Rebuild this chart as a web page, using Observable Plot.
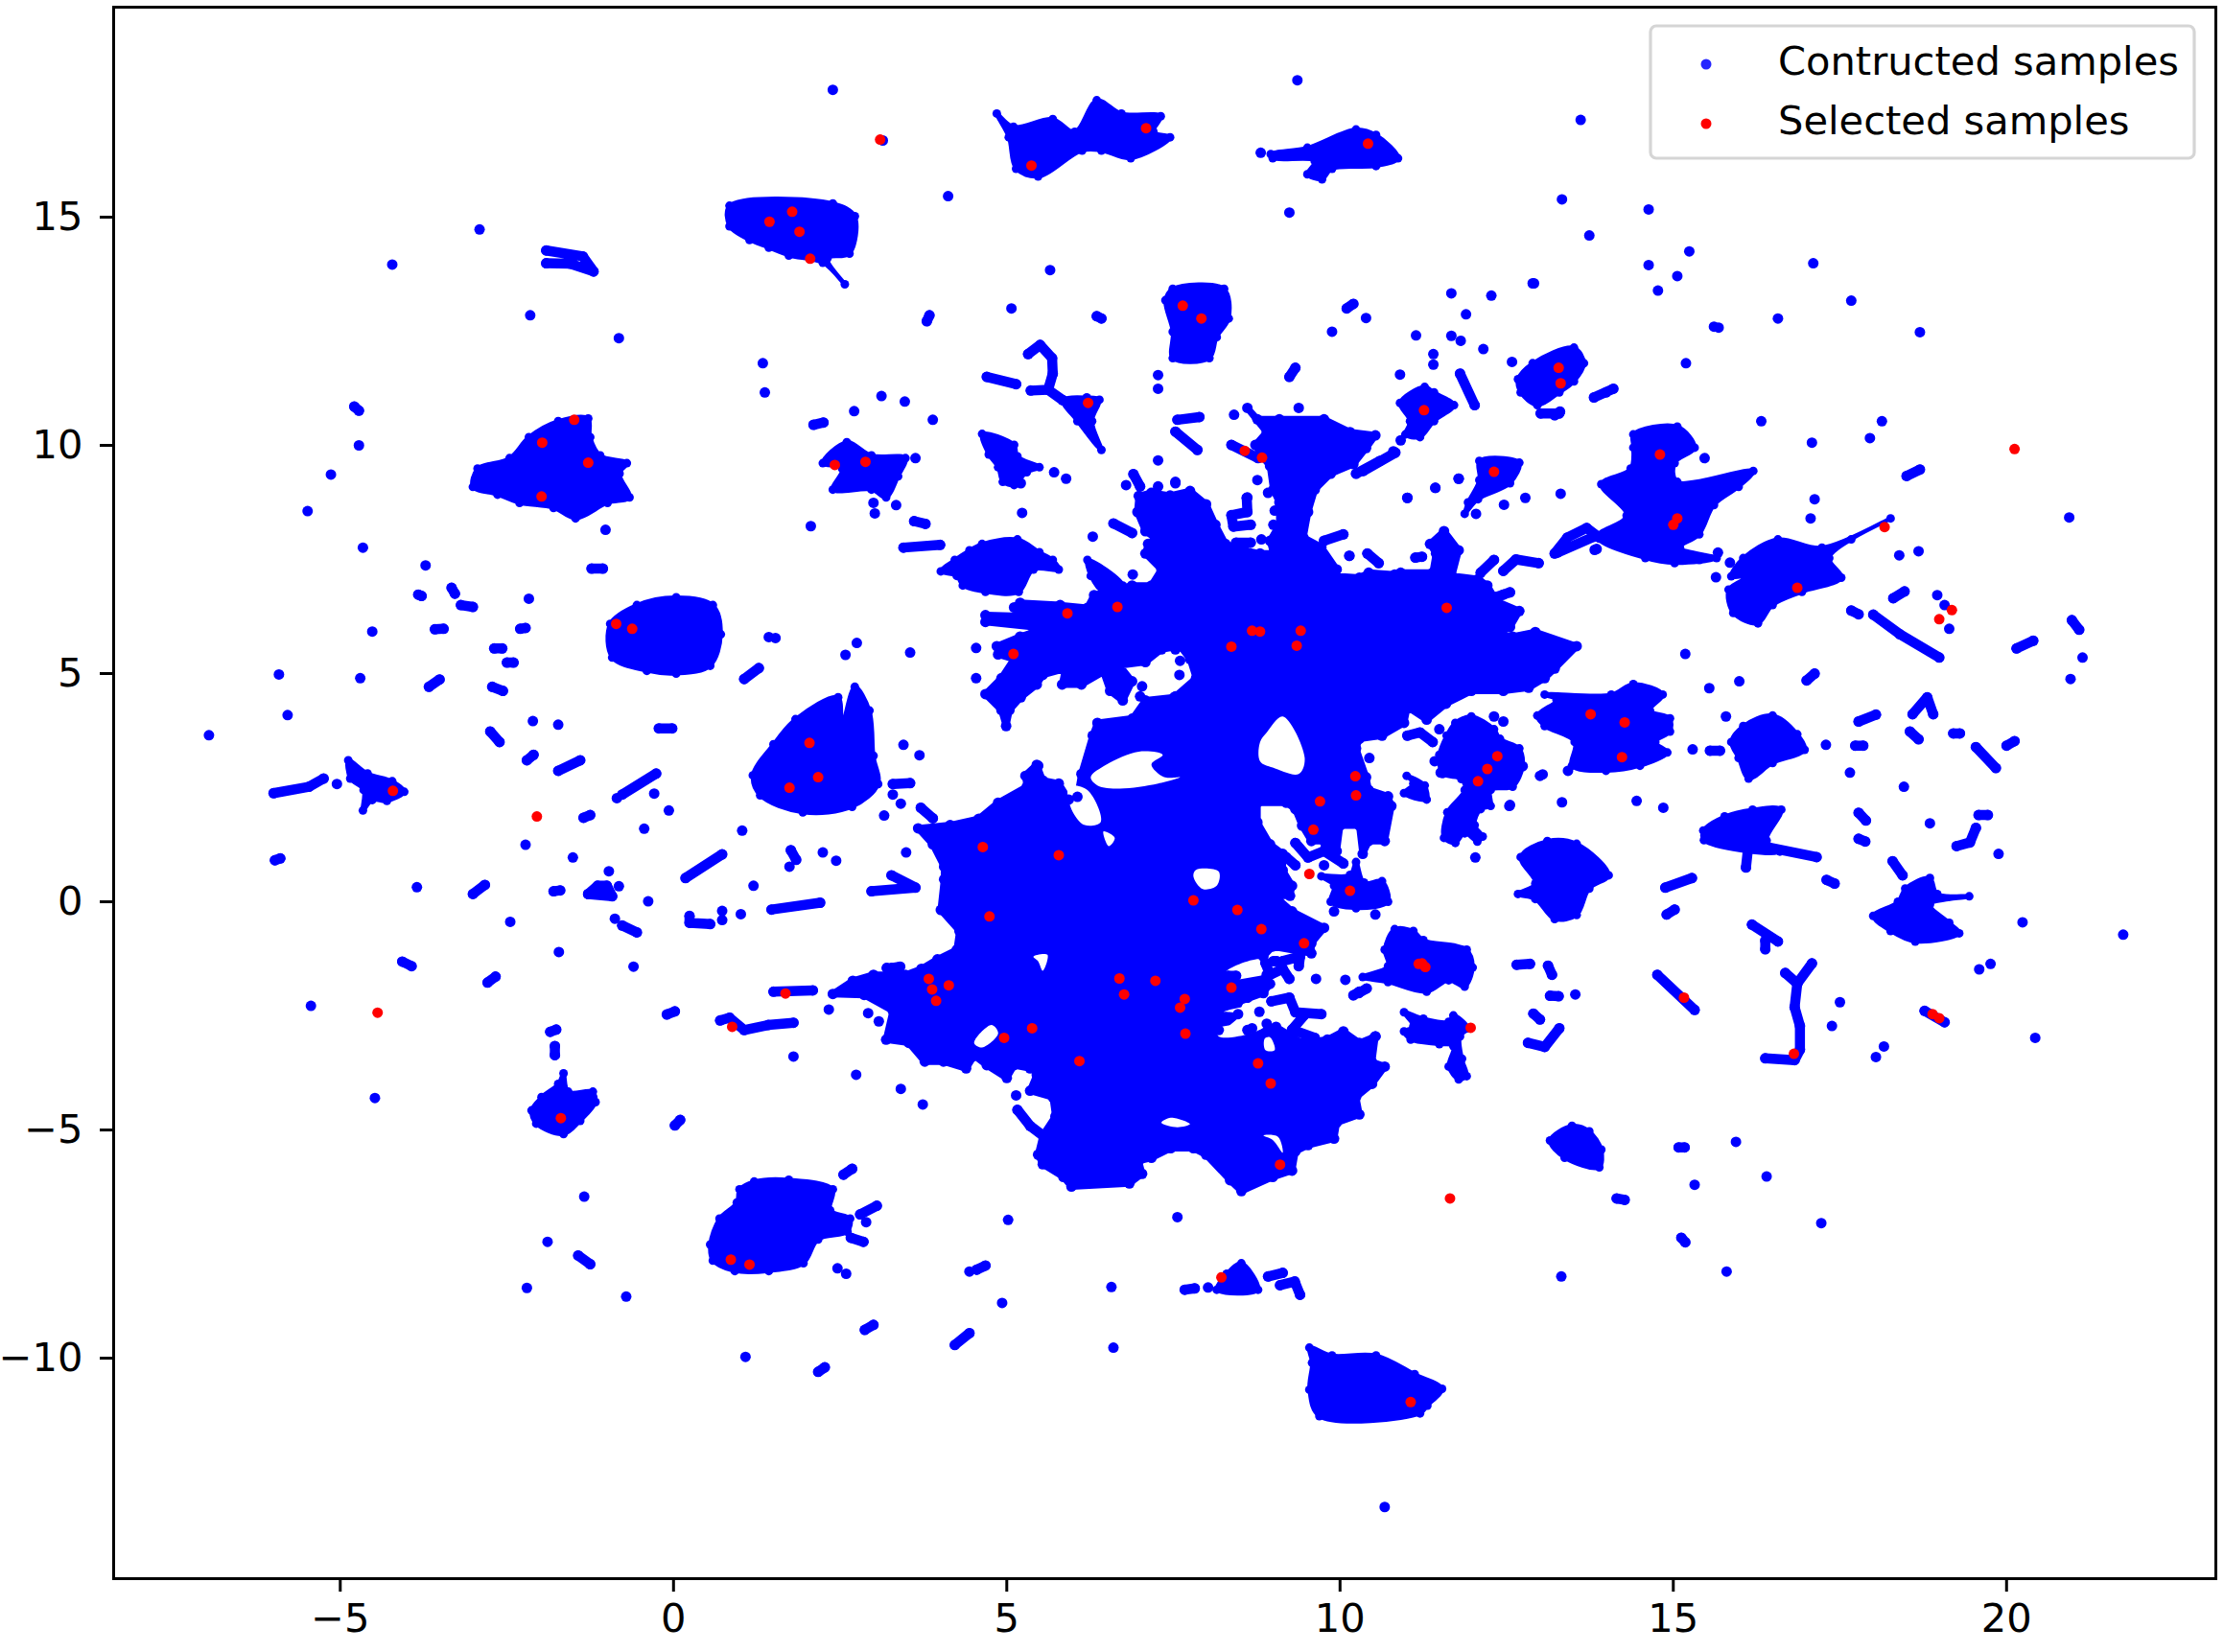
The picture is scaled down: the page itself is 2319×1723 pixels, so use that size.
<!DOCTYPE html>
<html><head><meta charset="utf-8">
<script src="https://cdn.jsdelivr.net/npm/d3@7"></script>
<script src="https://cdn.jsdelivr.net/npm/@observablehq/plot@0.6"></script>
<style>html,body{margin:0;padding:0;background:#fff}svg{display:block}</style>
</head><body><div id="chart"></div>
<script>
const xTicks=[-5,0,5,10,15,20];
const yTicks=[-10,-5,0,5,10,15];
const legendLabels=["Contructed samples","Selected samples"];

// central star, the band below it and the large lower mass, as one outline
const centralMass=[[4.68,6.28],[5.2,6.26],[5.11,6.45],[5.2,6.55],[5.8,6.5],[6.21,6.44],[6.31,6.72],[6.88,6.93],[7.17,6.93],[7.32,7.28],[7.08,7.63],[7.12,7.84],[7.22,7.98],[7.08,8.12],[6.96,8.54],[6.98,8.89],[7.17,8.96],[7.45,8.9],[7.75,9.0],[7.99,8.71],[8.13,8.26],[8.28,7.84],[8.56,7.7],[8.8,7.63],[9.0,7.63],[8.95,7.91],[9.09,8.26],[9.09,8.75],[9.0,9.03],[8.95,9.55],[8.83,9.76],[8.73,10.01],[8.9,10.29],[8.61,10.82],[8.76,10.57],[9.09,10.57],[9.76,10.57],[10.15,10.29],[10.53,10.22],[10.39,9.94],[10.2,9.59],[9.86,9.38],[9.62,9.03],[9.52,8.54],[9.45,7.98],[9.72,7.77],[9.95,7.28],[9.91,7.14],[10.29,7.1],[10.43,7.21],[10.82,7.17],[10.91,7.21],[11.39,7.21],[11.44,7.63],[11.35,7.84],[11.56,8.12],[11.78,7.7],[11.68,7.14],[12.07,7.07],[12.21,6.93],[12.35,6.58],[12.69,6.37],[12.55,6.02],[12.35,5.88],[12.59,5.81],[12.93,5.91],[13.55,5.6],[13.22,5.11],[13.07,4.9],[12.83,4.69],[12.45,4.62],[11.97,4.62],[11.59,4.34],[11.3,3.99],[11.01,4.27],[10.96,3.92],[10.63,3.64],[10.29,3.57],[10.24,3.36],[10.39,2.73],[10.43,2.45],[10.72,2.31],[10.77,2.1],[10.67,1.33],[10.43,1.33],[10.34,1.05],[10.29,1.67],[10.0,1.67],[9.95,1.11],[9.76,1.11],[9.76,1.33],[9.57,1.33],[9.43,1.67],[9.33,2.03],[9.19,2.17],[8.76,2.17],[8.76,1.74],[8.95,1.26],[9.14,1.05],[9.14,0.69],[9.28,0.35],[9.25,0.13],[9.02,0.13],[9.28,-0.21],[9.76,-0.57],[9.57,-0.91],[9.57,-1.13],[8.99,-0.98],[8.85,-1.2],[8.9,-1.6],[8.95,-1.8],[8.85,-2.0],[8.47,-2.2],[8.47,-2.46],[8.18,-2.81],[8.61,-2.81],[9.04,-2.74],[9.43,-3.09],[9.81,-3.02],[10.05,-2.84],[10.29,-3.09],[10.53,-2.95],[10.48,-3.51],[10.67,-3.61],[10.48,-3.99],[10.24,-4.28],[10.29,-4.66],[9.95,-4.84],[9.91,-5.19],[9.52,-5.33],[9.33,-5.47],[9.28,-5.89],[8.99,-6.03],[8.52,-6.34],[8.35,-6.1],[7.99,-5.54],[7.8,-5.4],[7.46,-5.4],[7.17,-5.61],[6.98,-5.68],[7.03,-5.96],[6.84,-6.17],[5.97,-6.24],[5.85,-6.03],[5.54,-5.75],[5.47,-5.54],[5.54,-5.12],[5.73,-4.7],[5.69,-4.28],[5.35,-4.14],[5.45,-3.79],[5.64,-3.51],[5.35,-3.65],[5.11,-3.58],[5.0,-3.86],[4.7,-3.58],[4.51,-3.37],[4.39,-3.65],[4.05,-3.5],[3.77,-3.5],[3.53,-3.09],[3.19,-3.02],[3.29,-2.39],[2.86,-2.04],[2.39,-2.02],[2.69,-1.73],[3.0,-1.6],[3.48,-1.6],[3.72,-1.47],[3.96,-1.26],[4.25,-1.05],[4.29,-0.64],[4.01,-0.18],[4.06,0.49],[4.06,0.77],[3.89,1.26],[3.67,1.61],[4.15,1.68],[4.58,1.82],[4.87,2.17],[5.3,2.52],[5.28,2.76],[5.45,3.0],[5.54,2.66],[5.78,2.59],[5.93,2.24],[6.06,2.3],[6.12,2.8],[6.29,3.64],[6.36,3.92],[6.89,4.02],[7.08,4.41],[7.51,4.48],[7.84,4.9],[7.75,5.32],[7.6,5.6],[7.32,5.53],[7.08,5.25],[6.69,5.18],[6.88,4.83],[6.74,4.41],[6.55,4.62],[6.45,5.04],[6.12,4.76],[5.83,4.76],[5.88,5.11],[5.54,4.97],[5.45,4.76],[5.21,4.48],[5.04,4.2],[4.99,3.85],[4.92,4.2],[4.68,4.55],[4.92,4.9],[5.11,5.32],[4.87,5.42],[4.85,5.6],[5.2,5.81],[5.4,5.91],[5.4,6.02],[4.68,6.13]];

// other dense regions of the blue samples: outlines
const denseRegions=[
[[-3.01,9.09],[-2.94,9.49],[-2.46,9.72],[-2.17,10.18],[-1.73,10.53],[-1.28,10.59],[-1.25,10.18],[-1.1,9.78],[-0.7,9.61],[-0.81,9.38],[-0.66,8.86],[-0.99,8.74],[-1.47,8.4],[-1.8,8.63],[-2.31,8.74],[-2.64,8.92]],
[[-0.95,6.09],[-0.55,6.5],[0.04,6.67],[0.59,6.5],[0.71,5.86],[0.55,5.17],[0.04,5.0],[-0.4,5.06],[-0.92,5.35]],
[[1.19,2.77],[1.5,3.45],[1.83,4.0],[2.47,4.48],[2.53,3.92],[2.72,4.71],[2.94,4.19],[3.0,3.2],[3.07,2.58],[2.68,2.08],[1.94,1.96],[1.3,2.33]],
[[0.84,15.25],[2.39,15.3],[2.72,15.02],[2.64,14.2],[2.31,14.1],[2.57,13.53],[2.24,14],[1.73,14.16],[1.43,14.33],[1.14,14.5],[0.84,14.8]],
[[4.85,17.27],[5.1,16.98],[5.69,17.15],[6.02,16.87],[6.35,17.56],[6.72,17.27],[7.31,17.21],[7.2,16.87],[7.45,16.75],[6.86,16.29],[6.42,16.46],[6.13,16.46],[5.47,15.89],[5.14,16.06],[5.03,16.75]],
[[8.96,16.38],[9.51,16.52],[10.24,16.92],[10.54,16.8],[10.87,16.29],[10.54,16.12],[9.88,16.06],[9.73,15.83],[9.51,15.94],[9.62,16.23],[8.99,16.29]],
[[7.38,13.18],[7.49,13.43],[8.26,13.43],[8.33,12.78],[8.15,12.37],[8.04,11.91],[7.49,11.91],[7.49,12.49]],
[[5.84,10.99],[6.2,11.05],[6.39,11.0],[6.28,10.53],[6.42,9.9],[6.06,10.53]],
[[2.24,9.61],[2.6,10.07],[2.97,9.78],[3.48,9.72],[3.37,9.32],[3.19,8.86],[2.97,9.03],[2.39,9.03],[2.53,9.49]],
[[4.63,10.25],[5.11,10.01],[5.16,9.76],[5.49,9.52],[5.3,9.41],[5.11,9.13],[4.94,9.2],[4.87,9.52],[4.73,9.8]],
[[4.01,7.24],[4.22,7.49],[4.44,7.7],[4.63,7.84],[5.16,7.94],[5.49,7.66],[5.69,7.49],[5.78,7.28],[5.4,7.28],[5.18,6.79],[4.68,6.79],[4.34,6.93],[4.25,7.14]],
[[6.21,7.49],[6.74,6.93],[6.45,6.79],[6.26,7.14]],
[[12.09,9.66],[12.69,9.62],[12.55,9.17],[12.07,8.82],[11.87,8.5],[11.92,8.75],[12.09,9.24]],
[[10.9,10.93],[11.27,11.28],[11.41,11.16],[11.71,10.88],[11.41,10.53],[11.2,10.18],[10.98,10.24],[11.05,10.53]],
[[9.72,0.56],[10.15,0.59],[10.24,0.87],[10.36,0.42],[10.63,0.45],[10.72,0],[10.24,-0.14],[9.86,0],[9.91,0.35]],
[[10.34,-1.65],[10.72,-1.41],[10.67,-1.05],[10.82,-0.6],[11.1,-0.64],[11.25,-0.84],[11.9,-1.05],[11.99,-1.44],[11.87,-1.86],[11.63,-1.72],[11.3,-1.97],[10.72,-1.76]],
[[10.96,-2.42],[11.25,-2.56],[11.63,-2.63],[11.7,-2.49],[11.92,-2.77],[11.8,-2.95],[11.83,-3.44],[11.9,-3.82],[11.78,-3.89],[11.63,-3.61],[11.7,-3.16],[11.49,-3.12],[11.06,-3.02],[10.96,-2.84],[11.1,-2.73]],
[[11.0,2.76],[11.27,2.55],[11.3,2.24],[10.96,2.38],[11.1,2.59]],
[[8.15,-8.5],[8.3,-8.15],[8.52,-7.92],[8.77,-8.5]],
[[9.54,-9.77],[9.88,-9.94],[10.54,-9.94],[11.12,-10.35],[11.53,-10.67],[11.31,-11.04],[11.2,-11.21],[9.69,-11.27],[9.54,-10.69],[9.58,-10.1]],
[[0.55,-7.51],[0.69,-6.94],[0.95,-6.59],[0.99,-6.3],[1.21,-6.13],[1.73,-6.09],[2.39,-6.3],[2.35,-6.76],[2.65,-6.94],[2.61,-7.23],[2.17,-7.4],[1.95,-7.92],[1.43,-8.09],[0.92,-8.09],[0.59,-7.86]],
[[-2.13,-4.57],[-1.98,-4.28],[-1.73,-3.99],[-1.65,-3.76],[-1.58,-4.16],[-1.21,-4.16],[-1.17,-4.39],[-1.4,-4.8],[-1.65,-5.09],[-2.06,-4.86]],
[[-4.88,3.1],[-4.59,2.81],[-4.22,2.64],[-4.04,2.41],[-4.3,2.21],[-4.52,2.23],[-4.66,2.0],[-4.65,2.45],[-4.85,2.7]],
[[12.67,11.45],[12.89,11.8],[13.51,12.14],[13.66,11.8],[13.51,11.4],[13.29,11.16],[12.96,10.88],[12.71,11.16]],
[[14.4,10.24],[15.06,10.41],[15.32,9.95],[15.02,9.61],[15.06,9.2],[16.2,9.44],[15.98,9.09],[15.61,8.69],[15.39,8.05],[15.1,7.76],[15.65,7.53],[15.02,7.42],[14.58,7.53],[13.85,8.0],[14.3,8.46],[13.92,9.15],[14.36,9.49],[14.4,9.95]],
[[16.05,7.53],[16.57,7.94],[17.23,7.76],[18.26,8.4],[17.67,7.94],[17.34,7.53],[17.52,7.1],[16.93,6.79],[16.49,6.5],[16.27,6.1],[15.9,6.33],[15.83,6.84],[16.13,7.13],[15.87,7.13]],
[[12.96,4.08],[13.25,4.42],[13.07,4.54],[14.07,4.54],[14.4,4.77],[14.84,4.54],[14.65,4.19],[14.95,4.02],[14.95,3.73],[14.73,3.5],[14.91,3.27],[14.5,2.98],[13.99,2.87],[13.48,2.98],[13.52,3.5],[13.07,3.85]],
[[11.49,3.22],[11.6,3.64],[11.73,3.92],[11.97,4.06],[12.31,3.78],[12.4,3.57],[12.69,3.36],[12.74,2.97],[12.59,2.52],[12.26,2.45],[12.26,2.1],[12.11,2.03],[12.02,1.68],[12.14,1.43],[12.06,1.32],[11.87,1.5],[11.73,1.29],[11.56,1.4],[11.61,1.96],[11.87,2.45],[11.82,2.69],[11.54,2.8]],
[[12.71,0.98],[13.11,1.33],[13.55,1.27],[14.03,0.58],[13.74,0.29],[13.55,-0.29],[13.22,-0.38],[12.93,0.06],[12.67,0.17],[12.93,0.4]],
[[18.0,-0.31],[18.37,0],[18.48,0.29],[18.85,0.52],[18.96,0.17],[19.44,0.12],[18.85,-0.06],[19.14,-0.46],[19.29,-0.69],[18.63,-0.87],[18.26,-0.64]],
[[15.45,1.56],[15.77,1.87],[16.19,2.02],[16.62,2.02],[16.4,1.34],[16.6,1.1],[16.13,1.1],[15.46,1.35]],
[[13.15,-5.23],[13.48,-4.91],[13.74,-5.03],[13.92,-5.43],[13.89,-5.82],[13.37,-5.61]],
[[15.87,3.5],[16.05,3.85],[16.49,4.08],[16.86,3.67],[16.97,3.33],[16.49,3.04],[16.13,2.7],[15.98,3.15]]
];

// white gaps inside the central mass
const gaps=[
[[9.14,4.06],[9.47,3.15],[9.38,2.8],[8.99,2.94],[8.8,3.08],[8.8,3.5],[8.9,3.71]],
[[6.5,3.01],[6.98,3.29],[7.34,3.22],[7.17,3.01],[7.36,2.73],[7.6,2.73],[7.27,2.59],[6.69,2.48],[6.36,2.55],[6.26,2.73]],
[[5.93,2.52],[6.21,2.45],[6.41,1.75],[6.17,1.68],[5.97,2.03]],
[[6.45,1.54],[6.62,1.4],[6.53,1.22]],
[[7.8,0.56],[7.84,0.7],[8.18,0.66],[8.15,0.35],[7.94,0.28]],
[[5.4,-1.2],[5.61,-1.16],[5.54,-1.51],[5.47,-1.3]],
[[8.28,-1.55],[8.83,-1.27],[8.85,-1.62],[8.61,-1.76],[8.37,-1.69]],
[[8.26,-2.41],[8.85,-2.3],[8.9,-2.67],[8.66,-2.88],[8.18,-2.95],[8.16,-2.78],[8.44,-2.65],[8.44,-2.45]],
[[4.51,-3.09],[4.77,-2.7],[4.87,-2.88],[4.63,-3.19]],
[[7.32,-4.84],[7.46,-4.73],[7.75,-4.87],[7.56,-4.94]],
[[8.85,-5.12],[9.07,-5.15],[9.14,-5.5],[8.99,-5.22]],
[[8.87,-3.0],[8.95,-2.97],[9.02,-3.25],[8.88,-3.25]]
];

// thin runs of blue samples
const strands=[
[[-1.91,14.27],[-1.36,14.14],[-1.2,13.81],[-1.55,13.98],[-1.91,13.99]],
[[-4.79,10.85],[-4.72,10.76]],[[-1.23,7.3],[-1.06,7.3]],[[-3.83,6.73],[-3.78,6.7]],[[-3.33,6.88],[-3.28,6.75]],[[-3.19,6.5],[-3.01,6.46]],
[[-2.3,5.98],[-2.22,6.0]],[[-3.58,5.97],[-3.45,5.98]],[[-2.69,5.55],[-2.57,5.55]],[[-2.5,5.24],[-2.4,5.24]],[[-3.67,4.71],[-3.51,4.87]],[[-2.72,4.71],[-2.56,4.62]],
[[-0.22,3.8],[-0.02,3.8]],[[-2.75,3.73],[-2.61,3.5]],[[-2.2,3.1],[-2.1,3.22]],[[-1.73,2.87],[-1.4,3.1]],[[-0.77,2.35],[-0.26,2.81]],[[-1.35,1.84],[-1.25,1.9]],
[[-6.0,2.38],[-5.47,2.52],[-5.25,2.7]],
[[5.32,12.0],[5.5,12.2],[5.68,11.91],[5.69,11.57],[5.62,11.22],[5.36,11.2]],[[5.62,11.22],[5.84,10.99]],[[4.7,11.5],[5.14,11.34]],[[2.1,10.45],[2.25,10.5]],
[[3.61,8.34],[3.78,8.28]],[[3.45,7.76],[4.0,7.82]],[[6.6,8.29],[6.88,8.08]],[[7.53,10.3],[7.86,9.9]],[[7.56,10.56],[7.89,10.62]],[[8.6,8.85],[8.61,8.54],[8.37,8.47],[8.4,8.22],[8.66,8.26]],
[[9.76,7.91],[10.05,8.05]],[[10.41,7.63],[10.58,7.42]],[[8.37,10.01],[8.77,9.72]],[[11.8,11.57],[12.02,10.88]],[[10.83,9.84],[10.35,9.44]],[[3.8,12.72],[3.84,12.85]],
[[6.35,12.83],[6.42,12.78]],[[9.24,11.5],[9.33,11.7]],[[10.1,13.0],[10.2,13.1]],[[6.9,9.37],[7.0,9.1]],[[8.44,7.87],[8.66,7.87]],[[11.13,7.54],[11.23,7.56]],
[[13.22,7.63],[13.41,7.98],[13.7,8.19],[13.89,7.98]],[[13.81,8.0],[13.26,7.65]],[[12.45,7.25],[12.64,7.5],[12.98,7.42]],[[12.11,7.21],[12.31,7.49]],[[12.35,6.68],[12.55,6.78]],[[13.81,11.05],[14.1,11.24]],[[13.01,10.7],[13.29,10.7]],
[[18.5,9.33],[18.7,9.47]],[[18.3,6.65],[18.47,6.8]],[[17.67,6.38],[17.78,6.3]],[[18.0,6.29],[18.4,5.86],[18.99,5.35]],[[20.98,6.17],[21.09,5.96]],[[20.15,5.55],[20.4,5.72]],
[[17.0,4.85],[17.12,5.0]],[[17.78,3.95],[18.04,4.1]],[[18.55,3.73],[18.68,3.56]],[[18.59,4.11],[18.81,4.48],[18.9,4.11]],[[19.54,3.39],[19.84,2.93]],[[19.2,3.69],[19.3,3.69]],[[20.0,3.42],[20.12,3.52]],
[[15.55,3.31],[15.7,3.31]],[[17.73,3.42],[17.85,3.42]],[[2.97,0.23],[3.63,0.31],[3.27,0.58]],[[1.47,-0.17],[2.2,-0.02]],[[1.5,-1.97],[2.09,-1.94]],[[5.16,-4.56],[5.35,-4.91],[5.54,-5.12]],[[3.2,-1.45],[3.35,-1.5]],
[[2.55,-5.98],[2.68,-5.85]],[[2.8,-6.85],[3.05,-6.66]],[[2.66,-7.36],[2.85,-7.45]],[[4.55,-8.06],[4.68,-7.97]],[[2.87,-9.38],[3.0,-9.27]],[[4.22,-9.71],[4.44,-9.45]],[[2.17,-10.3],[2.27,-10.2]],
[[7.67,-8.5],[7.82,-8.47]],[[8.92,-8.21],[9.14,-8.13]],[[9.1,-8.4],[9.32,-8.32],[9.4,-8.61]],
[[8.88,-1.34],[8.95,-1.6],[9.14,-1.47],[9.24,-1.69]],[[9.0,-1.3],[9.05,-1.3]],[[9.14,-1.3],[9.4,-1.2],[9.38,-1.41]],[[8.32,-1.62],[8.44,-1.62]],[[8.42,-1.83],[8.85,-1.72]],[[8.42,-1.83],[8.61,-2.1]],
[[8.97,-2.18],[9.24,-2.1],[9.33,-2.42],[9.72,-2.46]],[[9.48,-2.46],[9.28,-2.8],[9.62,-2.98]],[[10.29,-1.97],[10.2,-2.05]],[[10.53,-2.95],[10.44,-3.09]],
[[9.33,1.29],[9.52,0.97],[9.76,1.11],[10.05,0.84]],[[9.19,0.98],[9.33,0.8]],
[[10.28,-2.0],[10.4,-1.9]],[[-5.98,0.91],[-5.9,0.95]],[[-3.01,0.17],[-2.83,0.37]],[[-1.8,0.23],[-1.7,0.25]],[[-1.28,0.17],[-0.92,0.12],[-1.0,0.35],[-1.14,0.35],[-1.28,0.17]],
[[0.18,0.52],[0.73,1.04]],[[0.24,-0.31],[0.24,-0.46],[0.55,-0.49]],[[-0.77,-0.52],[-0.55,-0.67]],[[-4.07,-1.31],[-3.93,-1.41]],[[-2.79,-1.77],[-2.67,-1.64]],[[-0.1,-2.47],[0.02,-2.4]],
[[0.7,-2.6],[0.84,-2.54],[1.06,-2.81],[1.42,-2.7],[1.8,-2.65]],[[-1.85,-2.85],[-1.76,-2.8]],[[-1.78,-3.16],[-1.78,-3.36]],[[0.02,-4.9],[0.1,-4.78]],[[-1.43,-7.75],[-1.25,-7.94]],
[[14.88,0.31],[15.28,0.52]],[[14.9,-0.28],[15.02,-0.17]],[[12.65,-1.38],[12.85,-1.36]],[[13.12,-1.4],[13.18,-1.6]],[[13.15,-2.06],[13.28,-2.07]],[[12.9,-2.45],[13.0,-2.58]],[[12.82,-3.09],[13.07,-3.18],[13.29,-2.77]],
[[14.76,-1.6],[15.32,-2.37]],[[16.18,-0.5],[16.57,-0.87]],[[16.38,-0.85],[16.38,-1.04]],[[16.68,-1.56],[16.86,-1.79],[17.08,-1.35]],[[16.86,-1.79],[16.82,-2.31],[16.9,-2.72],[16.9,-3.24],[16.82,-3.47],[16.38,-3.43]],
[[18.77,-2.39],[19.07,-2.64]],[[17.3,0.48],[17.42,0.4]],[[17.78,1.38],[17.88,1.32]],[[19.25,1.22],[19.45,1.3],[19.54,1.62]],[[18.29,0.89],[18.44,0.58]],[[16.4,1.2],[17.15,0.98]],[[16.12,1.15],[16.09,0.75]],
[[15.08,-5.38],[15.17,-5.38]],[[14.15,-6.5],[14.27,-6.53]],[[15.12,-7.36],[15.18,-7.46]],[[17.78,1.95],[17.89,1.78]],[[19.58,1.9],[19.72,1.9]],[[5.3,2.75],[5.47,2.98]],
[[3.29,2.58],[3.55,2.6]],[[3.71,2.06],[3.89,1.83]],[[1.06,4.88],[1.28,5.12]],[[3.27,-1.45],[3.4,-1.42]],[[1.76,1.13],[1.84,0.92]],
[[10.24,9.38],[10.6,9.66]],[[11.01,3.64],[11.2,3.71],[11.39,3.5]],[[13.22,10.66],[13.3,10.74]]
];

// isolated blue samples
const isolatedX=[-2.91,-4.22,-2.15,-0.82,1.34,1.37,-4.72,-5.14,-5.49,-1.02,-4.66,-3.72,-2.17,-4.52,-5.92,-4.7,-5.79,-6.97,-2.11,-1.73,-0.85,-0.29,-0.07,-5.05,2.39,3.14,9.36,4.12,9.24,5.65,5.07,10.39,9.88,11.67,12.27,12.89,11.89,11.14,11.67,11.81,12.15,11.4,11.4,7.27,7.27,3.12,3.47,2.71,3.89,3.63,3.0,3.02,3.34,2.06,5.23,5.71,5.89,5.21,6.29,7.27,8.41,9.38,7.53,8.61,9.0,6.89,10.14,11.78,11.01,11.43,12.46,12.78,12.04,8.81,11.49,10.44,12.55,12.31,12.45,3.45,3.69,2.64,3.29,3.41,3.16,2.75,2.58,3.55,1.53,4.54,4.54,1.43,1.74,2.24,2.44,3.49,2.33,2.92,3.08,1.8,2.74,3.41,3.74,5.14,5.02,7.56,2.89,2.46,2.59,4.44,4.93,6.57,6.6,10.67,-3.85,-2.22,-1.51,-0.97,-0.82,-0.38,-0.44,1.03,0.73,0.73,1.01,-0.88,-2.45,-1.72,-0.6,-5.44,-4.48,-1.34,-1.89,-2.2,-0.71,1.08,13.61,13.33,14.63,13.74,15.24,14.63,15.06,14.77,17.1,17.67,18.7,16.57,15.61,15.68,12.91,15.19,16.32,17.08,17.95,18.13,17.12,17.06,20.94,18.68,18.39,18.96,19.07,19.14,21.14,20.96,15.18,15.54,15.99,13.85,15.85,15.64,15.67,15.39,12.45,15.47,15.29,17.29,17.65,18.46,15.79,13.33,14.45,14.85,13.04,13.42,18.85,12.03,19.88,20.24,21.75,19.76,19.59,20.43,17.5,17.38,18.16,18.04,13.53,15.94,15.32,16.4,17.22,15.8,13.32,12.58,13.99,10.9,8.02,8.37,1.2,
 9.91,10.53,9.76,9.21,8.79,8.9,8.68,9.64,10.08,12.54,13.0,11.42,11.51,12.74,13.31,11.78,11.43,11.01,13.82,10.14,10.8,10.91,8.76,8.92,8.82,9.02,6.79,7.53,7.27,7.03,7.0,7.59,7.53,7.53,7.6];
const isolatedY=[14.73,13.96,12.85,12.35,11.8,11.16,10.0,9.36,8.56,8.15,7.76,7.37,6.64,5.92,4.98,4.9,4.09,3.65,3.96,3.88,2.27,2.37,2.0,2.58,17.79,16.68,18.0,15.46,15.1,13.84,13.0,12.79,12.49,13.33,13.28,13.55,12.87,12.41,12.4,12.29,12.11,12.0,11.77,11.54,11.24,11.08,10.96,10.75,10.56,9.72,8.74,8.51,8.69,8.23,8.52,9.41,9.27,9.17,8.0,9.67,10.67,10.82,9.2,8.86,8.26,7.17,7.58,9.27,8.85,9.07,8.7,8.85,8.5,16.41,3.78,3.15,2.12,4.06,3.95,3.44,3.21,2.98,2.35,2.15,1.89,5.67,5.41,5.46,5.78,5.56,4.9,5.8,0.77,1.08,0.9,1.08,-2.36,-2.44,-2.62,-3.39,-3.79,-4.1,-4.44,-4.24,-6.97,-6.91,-7.02,-8.03,-8.15,-8.1,-8.79,-8.44,-9.77,-13.26,0.32,1.25,0.97,0.67,0.34,0.01,1.6,1.56,-0.2,-0.4,-0.27,-0.37,-0.44,-1.1,-1.42,-2.28,-4.3,-6.46,-7.45,-8.46,-8.65,-9.97,17.13,15.39,15.17,14.6,14.25,13.95,13.71,13.39,13.99,13.17,12.48,12.78,12.6,12.58,13.55,11.8,10.53,10.06,10.16,10.53,8.82,8.4,8.42,7.68,7.59,6.72,6.5,5.98,5.35,4.88,5.43,4.68,4.83,7.73,7.43,7.11,7.65,7.51,6.73,9.72,3.34,3.44,2.83,2.52,4.06,2.18,2.21,2.06,2.79,2.87,1.72,0.97,1.05,-0.45,-0.72,-1.36,-1.48,-2.98,-2.2,-2.72,-3.17,-3.4,-2.03,-5.26,-6.2,-6.02,-7.04,-8.1,-8.21,11.83,11.16,11.55,-8.45,-1.88,0.35,
 -0.21,-0.28,0.8,0.2,-2.41,-2.67,-2.77,-1.69,-1.71,2.1,2.76,3.08,2.83,2.97,8.94,9.27,9.07,8.85,7.71,7.58,9.87,10.11,9.24,8.96,7.94,8.57,9.13,9.17,9.1,4.72,4.5,4.97,4.5,5.53,5.28];

// selected samples (red)
const selectedX=[-1.49,-1.97,-1.28,-1.98,-0.86,-0.62,-4.21,-2.05,1.44,1.78,1.89,2.05,3.1,5.37,7.09,10.42,7.64,7.92,6.22,2.42,2.88,8.57,8.83,11.26,12.31,5.91,6.66,11.6,8.68,8.8,9.41,8.37,9.35,5.1,2.04,2.17,1.74,12.36,12.21,12.07,10.23,10.24,9.7,13.28,13.31,14.8,15.06,15.0,18.17,16.86,20.12,19.18,18.99,13.76,14.27,14.23,4.64,5.78,4.74,7.8,8.46,8.82,9.46,9.6,9.54,10.15,3.83,3.88,3.94,4.13,1.68,6.69,7.23,6.76,7.67,7.6,8.37,7.68,5.38,4.96,6.09,8.77,8.96,9.1,11.65,11.96,11.18,11.23,11.28,11.06,8.22,-4.44,-1.69,0.88,0.86,1.14,15.16,16.81,18.89,18.99];
const selectedY=[10.56,10.06,9.62,8.88,6.09,5.98,2.43,1.87,14.9,15.12,14.68,14.09,16.7,16.13,16.95,16.61,13.06,12.78,10.93,9.57,9.64,9.88,9.73,10.77,9.42,6.32,6.46,6.44,5.94,5.92,5.94,5.59,5.61,5.43,3.48,2.73,2.5,3.19,2.91,2.64,2.75,2.33,2.2,11.7,11.36,9.8,8.4,8.26,8.21,6.88,9.92,6.39,6.19,4.11,3.93,3.17,1.2,1.02,-0.32,0.03,-0.18,-0.6,-0.91,1.58,0.61,0.24,-1.69,-1.92,-2.17,-1.83,-2.01,-1.68,-1.73,-2.03,-2.13,-2.32,-1.88,-2.89,-2.77,-2.98,-3.49,-3.54,-3.98,-5.76,-6.5,-2.76,-1.36,-1.35,-1.43,-10.96,-8.23,-2.43,-4.74,-2.74,-7.84,-7.95,-2.1,-3.33,-2.46,-2.55];

const BLUE="#0000ff", RED="#ff0000", R=5.5, FS=41.6, FONT="DejaVu Sans";
const toRows=(lists)=>lists.flatMap((pts,g)=>pts.map(([x,y])=>({x,y,g})));
const centralRows=centralMass.map(([x,y])=>({x,y}));
const denseRows=toRows(denseRegions), gapRows=toRows(gaps), strandRows=toRows(strands);
const isolated=isolatedX.map((x,i)=>({x,y:isolatedY[i]}));
const selected=selectedX.map((x,i)=>({x,y:selectedY[i]}));
const tickText=d=>d<0?"\u2212"+(-d):String(d);

function legend(){
  const g=d3.create("svg:g");
  g.append("rect").attr("x",1721).attr("y",27).attr("width",567).attr("height",138).attr("rx",6)
    .attr("fill","#fff").attr("fill-opacity",0.8).attr("stroke","#d5d5d5").attr("stroke-width",3.2);
  [[67,BLUE,78,0.85],[129,RED,140,1]].forEach(([cy,c,b,o],i)=>{
    g.append("circle").attr("cx",1779).attr("cy",cy).attr("r",R).attr("fill",c).attr("fill-opacity",o);
    g.append("text").attr("x",1854).attr("y",b).attr("text-anchor","start").attr("font-family",FONT).attr("font-size",FS).attr("fill","#000").text(legendLabels[i]);
  });
  return g.node();
}

const chart=Plot.plot({
  width:2319,height:1723,
  marginLeft:118,marginRight:9,marginTop:7,marginBottom:77,
  style:{background:"#fff",fontFamily:FONT,overflow:"visible"},
  x:{domain:[-8.40,23.14]},
  y:{domain:[-14.83,19.6]},
  marks:[
    Plot.line(centralRows,{x:"x",y:"y",curve:"linear-closed",fill:BLUE,stroke:BLUE,strokeWidth:7}),
    Plot.line(denseRows,{x:"x",y:"y",z:"g",curve:"catmull-rom-closed",fill:BLUE,stroke:BLUE,strokeWidth:4}),
    Plot.line(gapRows,{x:"x",y:"y",z:"g",curve:"catmull-rom-closed",fill:"#fff",stroke:"none"}),
    Plot.line(strandRows,{x:"x",y:"y",z:"g",stroke:BLUE,strokeWidth:10.5,strokeLinecap:"round"}),
    Plot.dot(centralRows,{x:"x",y:"y",r:R,fill:BLUE,stroke:"none"}),
    Plot.dot(denseRows,{x:"x",y:"y",r:4.5,fill:BLUE,stroke:"none"}),
    Plot.dot(strandRows,{x:"x",y:"y",r:R,fill:BLUE,stroke:"none"}),
    Plot.dot(isolated,{x:"x",y:"y",r:R,fill:BLUE,stroke:"none"}),
    Plot.dot(selected,{x:"x",y:"y",r:R,fill:RED,stroke:"none"}),
    Plot.frame({stroke:"#000",strokeWidth:3}),
    Plot.axisX({ticks:xTicks,tickFormat:tickText,tickSize:14,tickPadding:12,strokeWidth:3,label:null,fontSize:FS,fill:"#000",stroke:"#000",anchor:"bottom"}),
    Plot.axisY({ticks:yTicks,tickFormat:tickText,tickSize:14,tickPadding:18,strokeWidth:3,label:null,fontSize:FS,fill:"#000",stroke:"#000",anchor:"left"}),
    legend
  ]
});
document.getElementById("chart").append(chart);
</script></body></html>
